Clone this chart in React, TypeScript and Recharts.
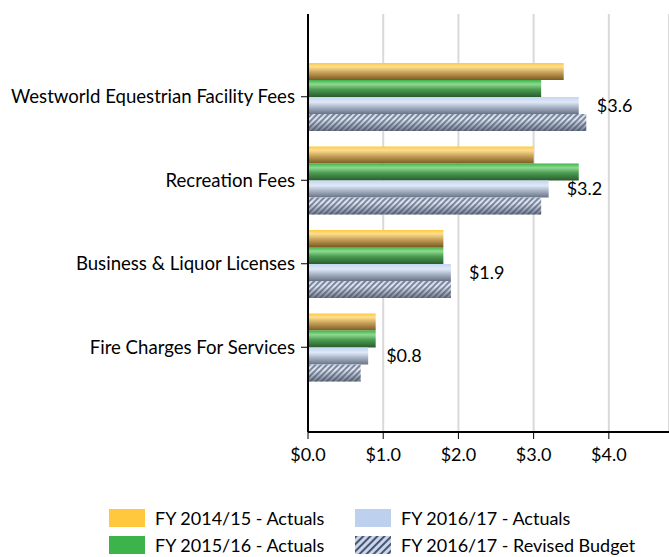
import { BarChart, Bar, XAxis, YAxis, CartesianGrid, LabelList } from 'recharts'

const categories = [
  'Westworld Equestrian Facility Fees',
  'Recreation Fees',
  'Business & Liquor Licenses',
  'Fire Charges For Services',
]
const fy1415 = [3.4, 3.0, 1.8, 0.9]
const fy1516 = [3.1, 3.6, 1.8, 0.9]
const fy1617 = [3.6, 3.2, 1.9, 0.8]
const fy1617Revised = [3.7, 3.1, 1.9, 0.7]
const xTicks = [0, 1, 2, 3, 4]

const data = categories.map((name, i) => ({
  name,
  fy1415: fy1415[i],
  fy1516: fy1516[i],
  fy1617: fy1617[i],
  fy1617Revised: fy1617Revised[i],
}))

const font = 'Lato, "Open Sans", sans-serif'
const money = (v: number) => `$${Number(v).toFixed(1)}`

const HatchedBar = (props: any) => {
  const { x, y, width, height } = props
  if (!width || width <= 0) return null
  return (
    <g>
      <rect x={x} y={y} width={width} height={height} fill="url(#gBlueGrey)" />
      <rect x={x} y={y} width={width} height={height} fill="url(#hatch)" />
    </g>
  )
}

const legendItems = [
  { label: 'FY 2014/15 - Actuals', fill: '#ffc83d' },
  { label: 'FY 2016/17 - Actuals', fill: '#bdd0ee' },
  { label: 'FY 2015/16 - Actuals', fill: '#3cb44b' },
  { label: 'FY 2016/17 - Revised Budget', fill: 'hatch' },
]

export default function App() {
  return (
    <div style={{ position: 'absolute', left: 0, top: 0, width: 669, height: 557, background: '#fff', fontFamily: font }}>
      <BarChart
        width={669}
        height={470}
        data={data}
        layout="vertical"
        margin={{ top: 14, right: 0, bottom: 8, left: 0 }}
        barSize={17}
        barGap={0}
      >
        <defs>
          <linearGradient id="gYellow" x1="0" y1="0" x2="0" y2="1">
            <stop offset="0" stopColor="#ffc940" />
            <stop offset="0.22" stopColor="#ffdf8f" />
            <stop offset="0.55" stopColor="#c9a25a" />
            <stop offset="1" stopColor="#7a5b22" />
          </linearGradient>
          <linearGradient id="gGreen" x1="0" y1="0" x2="0" y2="1">
            <stop offset="0" stopColor="#3db44a" />
            <stop offset="0.25" stopColor="#8fd98f" />
            <stop offset="0.55" stopColor="#4b9d52" />
            <stop offset="1" stopColor="#2a5b2d" />
          </linearGradient>
          <linearGradient id="gBlue" x1="0" y1="0" x2="0" y2="1">
            <stop offset="0" stopColor="#c4d6f2" />
            <stop offset="0.3" stopColor="#dfe8f6" />
            <stop offset="0.6" stopColor="#a8b4c7" />
            <stop offset="1" stopColor="#687384" />
          </linearGradient>
          <linearGradient id="gBlueGrey" x1="0" y1="0" x2="0" y2="1">
            <stop offset="0" stopColor="#ccd8ee" />
            <stop offset="0.3" stopColor="#e2e8f3" />
            <stop offset="0.6" stopColor="#b0bacb" />
            <stop offset="1" stopColor="#6f798a" />
          </linearGradient>
          <pattern id="hatch" width="4" height="4" patternUnits="userSpaceOnUse" patternTransform="rotate(45)">
            <line x1="1" y1="0" x2="1" y2="4" stroke="#3f4a63" strokeWidth="1.6" strokeOpacity="0.75" />
          </pattern>
          <pattern id="hatchLegend" width="5" height="5" patternUnits="userSpaceOnUse" patternTransform="rotate(45)">
            <rect width="5" height="5" fill="#c9d5ea" />
            <line x1="1" y1="0" x2="1" y2="5" stroke="#4a5570" strokeWidth="2" />
          </pattern>
        </defs>
        <CartesianGrid horizontal={false} stroke="#d9d9d9" strokeWidth={2} />
        <XAxis
          type="number"
          domain={[0, 4.8]}
          ticks={xTicks}
          tickFormatter={money}
          height={30}
          axisLine={{ stroke: '#000', strokeWidth: 2 }}
          tickLine={{ stroke: '#000' }}
          tickSize={7}
          tickMargin={9}
          tick={{ fill: '#000', fontSize: 18, fontFamily: font }}
        />
        <YAxis
          type="category"
          dataKey="name"
          width={308}
          padding={{ top: 41, bottom: 43 }}
          axisLine={{ stroke: '#000', strokeWidth: 2 }}
          tickLine={{ stroke: '#000' }}
          tickSize={7}
          tickMargin={6}
          tick={{ fill: '#000', fontSize: 18.6, fontFamily: font }}
        />
        <Bar dataKey="fy1415" fill="url(#gYellow)" isAnimationActive={false} />
        <Bar dataKey="fy1516" fill="url(#gGreen)" isAnimationActive={false} />
        <Bar dataKey="fy1617" fill="url(#gBlue)" isAnimationActive={false}>
          <LabelList
            dataKey="fy1617"
            position="right"
            offset={18}
            formatter={(v: any) => money(v)}
            style={{ fill: '#000', fontSize: 18, fontFamily: font }}
          />
        </Bar>
        <Bar dataKey="fy1617Revised" shape={HatchedBar} isAnimationActive={false} />
      </BarChart>
      <div
        style={{
          position: 'absolute',
          left: 109,
          top: 509,
          display: 'grid',
          gridTemplateColumns: '246px 290px',
          rowGap: 9,
        }}
      >
        {legendItems.map((it) => (
          <div key={it.label} style={{ display: 'flex', alignItems: 'center', height: 18 }}>
            {it.fill === 'hatch' ? (
              <svg width={36} height={18} style={{ display: 'block' }}>
                <rect width={36} height={18} fill="url(#hatchLegend)" />
              </svg>
            ) : (
              <div style={{ width: 36, height: 18, background: it.fill }} />
            )}
            <span style={{ marginLeft: 10, fontSize: 18, color: '#000', whiteSpace: 'nowrap' }}>{it.label}</span>
          </div>
        ))}
      </div>
    </div>
  )
}
